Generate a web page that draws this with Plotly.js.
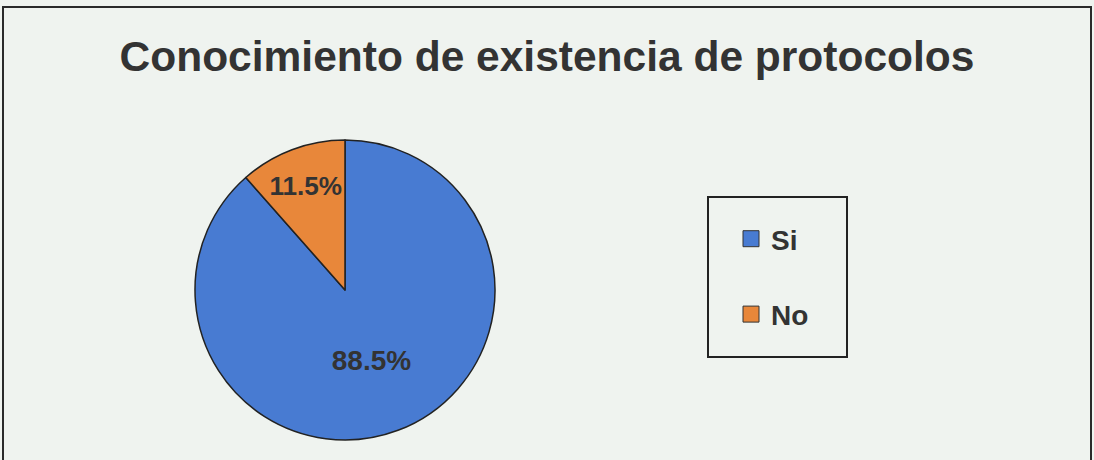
<!DOCTYPE html>
<html>
<head>
<meta charset="utf-8">
<script src="https://cdn.plot.ly/plotly-3.0.1.min.js"></script>
<style>
  html, body { margin: 0; padding: 0; background: #eff3ef; }
  #chart { width: 1094px; height: 460px; }
</style>
</head>
<body>
<div id="chart"></div>
<script>
const labels = ['Si', 'No'];
const values = [88.5, 11.5];
const colors = ['#487bd2', '#e8873a'];
const chartTitle = 'Conocimiento de existencia de protocolos';

const W = 1094, H = 460;
const px = x => x / W;
const py = y => 1 - y / H;

const pie = {
  type: 'pie',
  labels: labels,
  values: values,
  sort: false,
  direction: 'clockwise',
  rotation: 0,
  marker: { colors: colors, line: { color: '#222', width: 1.5 } },
  texttemplate: '%{percent:.1%}',
  textposition: 'inside',
  insidetextorientation: 'horizontal',
  textfont: { family: 'Liberation Sans, Arial, sans-serif', size: 28, color: '#333', weight: 'bold' },
  domain: { x: [px(195), px(495)], y: [py(440), py(140)] },
  showlegend: false,
  hoverinfo: 'label+percent'
};

const legendTraces = labels.map((lab, i) => ({
  type: 'scatter',
  mode: 'markers',
  x: [null], y: [null],
  name: lab,
  legendgroup: 'g' + i,
  marker: { symbol: 'square', size: 16, color: colors[i], line: { color: '#333', width: 1 } },
  hoverinfo: 'skip'
}));

const layout = {
  width: W, height: H,
  paper_bgcolor: '#eff3ef',
  plot_bgcolor: 'rgba(0,0,0,0)',
  margin: { l: 0, r: 0, t: 0, b: 0 },
  title: {
    text: '<b>' + chartTitle + '</b>',
    font: { family: 'Liberation Sans, Arial, sans-serif', size: 42.5, color: '#333' },
    x: 0.5, xanchor: 'center', xref: 'paper',
    y: py(56), yanchor: 'middle', yref: 'container'
  },
  xaxis: { visible: false, range: [0, 1] },
  yaxis: { visible: false, range: [0, 1] },
  showlegend: true,
  legend: {
    x: px(731), xanchor: 'left',
    y: py(214), yanchor: 'top',
    bgcolor: 'rgba(0,0,0,0)',
    borderwidth: 0,
    tracegroupgap: 36,
    font: { family: 'Liberation Sans, Arial, sans-serif', size: 28, color: '#333', weight: 'bold' },
    itemclick: false, itemdoubleclick: false
  },
  shapes: [
    { type: 'rect', xref: 'paper', yref: 'paper', x0: px(3), x1: px(1091), y0: -0.2, y1: py(7),
      line: { color: '#2a2a2a', width: 2 }, fillcolor: 'rgba(0,0,0,0)', layer: 'below' },
    { type: 'rect', xref: 'paper', yref: 'paper', x0: px(708), x1: px(847), y0: py(357), y1: py(197),
      line: { color: '#222', width: 2 }, fillcolor: 'rgba(0,0,0,0)' }
  ]
};

Plotly.newPlot('chart', [pie].concat(legendTraces), layout, { displayModeBar: false });
</script>
</body>
</html>
